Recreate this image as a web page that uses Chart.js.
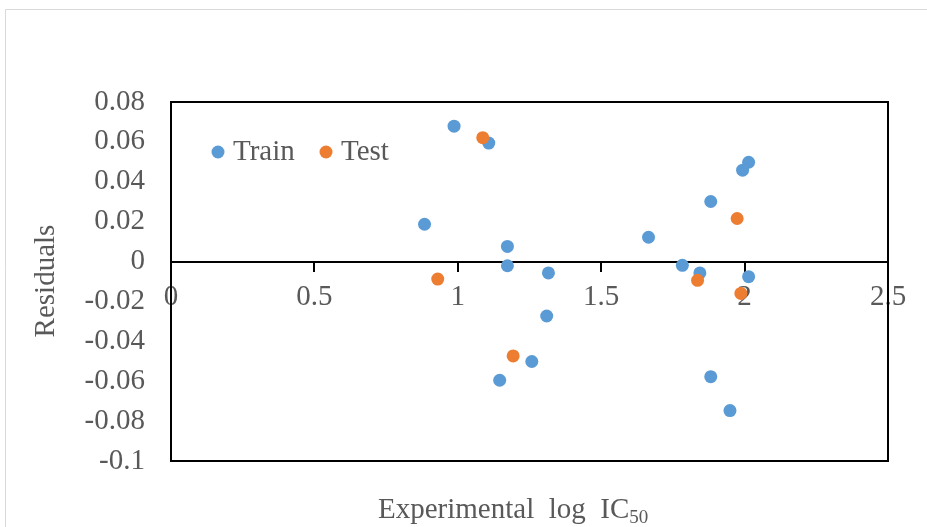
<!DOCTYPE html>
<html lang="en">
<head>
  <meta charset="UTF-8">
  <title>Residuals vs Experimental log IC50</title>
  <script src="https://cdn.jsdelivr.net/npm/chart.js"></script>
  <style>
    html, body {
      margin: 0;
      padding: 0;
      background: #fff;
    }
    #wrap {
      width: 927px;
      height: 527px;
    }
  </style>
</head>
<body>
  <div id="wrap"><canvas id="residualChart" width="927" height="527"></canvas></div>
  <script>
    // train set points
    const trainX = [0.987, 1.108, 0.884, 1.173, 1.173, 1.316, 2.014, 1.993, 1.882, 1.665,
                    1.783, 1.844, 2.014, 1.310, 1.882, 1.949, 1.258, 1.146];
    const trainY = [0.0679, 0.0594, 0.0187, 0.0076, -0.0021, -0.0057, 0.0498, 0.0458, 0.0301, 0.0122,
                    -0.0019, -0.0057, -0.0076, -0.0273, -0.0577, -0.0747, -0.0501, -0.0595];

    // test set points
    const testX = [1.087, 0.930, 1.974, 1.836, 1.987, 1.193];
    const testY = [0.0621, -0.0088, 0.0216, -0.0094, -0.0160, -0.0473];

    const seriesNames = ['Train', 'Test'];
    const seriesColors = ['#5B9BD5', '#ED7D31'];

    const xTitle = 'Experimental  log  IC';
    const xTitleSub = '50';
    const yTitle = 'Residuals';

    const toPoints = (xs, ys) => xs.map((x, i) => ({ x: x, y: ys[i] }));
    const fmt = v => String(Number(v.toFixed(3)));

    const FONT = "'Liberation Serif', 'Times New Roman', serif";
    const TEXT = '#595959';

    // frame, titles and legend drawn on top of the scales
    const decor = {
      id: 'decor',
      beforeDraw(chart) {
        const c = chart.ctx;
        c.save();
        c.strokeStyle = '#d9d9d9';
        c.lineWidth = 1;
        c.beginPath();
        c.moveTo(5.5, 527);
        c.lineTo(5.5, 9.5);
        c.lineTo(927, 9.5);
        c.stroke();
        c.restore();
      },
      afterDraw(chart) {
        const c = chart.ctx;
        const a = chart.chartArea;
        c.save();
        c.strokeStyle = '#000';
        c.lineWidth = 2;
        c.beginPath();
        c.moveTo(a.left, a.top);
        c.lineTo(a.right, a.top);
        c.lineTo(a.right, a.bottom);
        c.lineTo(a.left, a.bottom);
        c.stroke();

        c.fillStyle = TEXT;
        c.textBaseline = 'middle';

        // x title with subscript
        c.font = '29px ' + FONT;
        c.textAlign = 'left';
        c.fillText(xTitle, 378, 510);
        const w = c.measureText(xTitle).width;
        c.font = '19px ' + FONT;
        c.fillText(xTitleSub, 378 + w, 518);

        // y title
        c.font = '29px ' + FONT;
        c.translate(46, 281);
        c.rotate(-Math.PI / 2);
        c.textAlign = 'center';
        c.fillText(yTitle, 0, 0);
        c.restore();

        // legend inside plot
        c.save();
        c.font = '29px ' + FONT;
        c.textBaseline = 'middle';
        c.textAlign = 'left';
        const legendX = [218, 326];
        const legendY = 152;
        seriesNames.forEach((name, i) => {
          c.fillStyle = seriesColors[i];
          c.beginPath();
          c.arc(legendX[i], legendY, 6.5, 0, Math.PI * 2);
          c.fill();
          c.fillStyle = TEXT;
          c.fillText(name, legendX[i] + 15, legendY);
        });
        c.restore();
      }
    };

    Chart.defaults.font.family = FONT;
    Chart.defaults.font.size = 29;
    Chart.defaults.color = TEXT;

    new Chart(document.getElementById('residualChart'), {
      type: 'scatter',
      data: {
        datasets: [
          {
            label: seriesNames[0],
            data: toPoints(trainX, trainY),
            backgroundColor: seriesColors[0],
            borderColor: seriesColors[0],
            borderWidth: 0,
            pointRadius: 6.5,
            order: 1
          },
          {
            label: seriesNames[1],
            data: toPoints(testX, testY),
            backgroundColor: seriesColors[1],
            borderColor: seriesColors[1],
            borderWidth: 0,
            pointRadius: 6.5,
            order: 0
          }
        ]
      },
      options: {
        responsive: false,
        animation: false,
        events: [],
        layout: {
          padding: { left: 0, top: 102, right: 39, bottom: 66 }
        },
        plugins: {
          legend: { display: false },
          tooltip: { enabled: false }
        },
        scales: {
          x: {
            type: 'linear',
            min: 0,
            max: 2.5,
            position: { y: 0 },
            border: { color: '#000', width: 2 },
            grid: {
              drawOnChartArea: false,
              drawTicks: true,
              tickLength: 9,
              color: '#000',
              lineWidth: 2
            },
            ticks: {
              stepSize: 0.5,
              padding: 9,
              maxRotation: 0,
              callback: v => fmt(v)
            }
          },
          y: {
            type: 'linear',
            min: -0.1,
            max: 0.08,
            border: { color: '#000', width: 2 },
            grid: {
              drawOnChartArea: false,
              drawTicks: false
            },
            ticks: {
              stepSize: 0.02,
              padding: 26,
              callback: v => fmt(v)
            },
            afterFit(scale) {
              scale.width = 171;
            }
          }
        }
      },
      plugins: [decor]
    });
  </script>
</body>
</html>
